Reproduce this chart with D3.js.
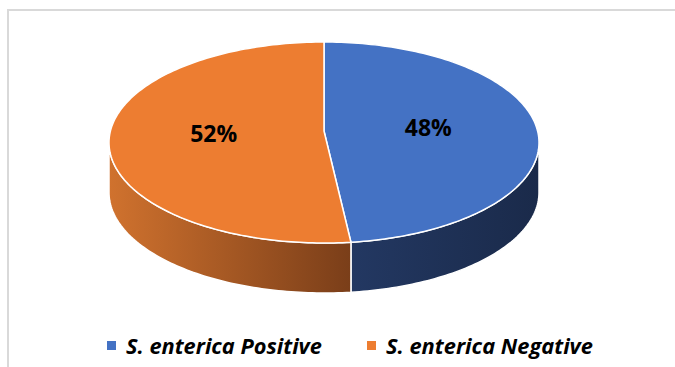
<!DOCTYPE html>
<html>
<head>
<meta charset="utf-8">
<script src="https://cdn.jsdelivr.net/npm/d3@7"></script>
<style>
  html, body { margin: 0; padding: 0; background: #fff; }
  svg { display: block; }
</style>
</head>
<body>
<svg id="chart" width="675" height="367"></svg>
<script>
const categories = ["S. enterica Positive", "S. enterica Negative"];
const values = [48, 52];
const labels = ["48%", "52%"];
const topColors = ["#4472C4", "#ED7D31"];
const sideLight = ["#233862", "#d0722e"];
const sideDark = ["#1a2a4a", "#7a3e19"];

const W = 675, H = 367;
const svg = d3.select("#chart");

// frame
svg.append("rect").attr("x", 8).attr("y", 10).attr("width", 700).attr("height", 400)
  .attr("fill", "#fff").attr("stroke", "#d9d9d9").attr("stroke-width", 2);

const cx = 324, cy = 142.5, rx = 215, ry = 100.5, depth = 50;
const hub = [324, 131];

const pie = d3.pie().sort(null).value(d => d);
const arcs = pie(values);

const pt = (a, dy = 0) => [cx + rx * Math.sin(a), cy - ry * Math.cos(a) + dy];

function sample(a0, a1, dy = 0) {
  const n = Math.max(2, Math.ceil(Math.abs(a1 - a0) / 0.02));
  return d3.range(n + 1).map(i => pt(a0 + (a1 - a0) * i / n, dy));
}

const defs = svg.append("defs");
const line = d3.line();

// sides (front half only: angles pi/2 .. 3pi/2)
arcs.forEach((d, i) => {
  const a0 = Math.max(d.startAngle, Math.PI / 2);
  const a1 = Math.min(d.endAngle, 3 * Math.PI / 2);
  if (a1 <= a0) return;
  const topPts = sample(a0, a1);
  const botPts = sample(a1, a0, depth);
  const xs = topPts.map(p => p[0]);
  const x0 = d3.min(xs), x1 = d3.max(xs);
  const gid = "side" + i;
  const g = defs.append("linearGradient").attr("id", gid)
    .attr("gradientUnits", "userSpaceOnUse")
    .attr("x1", x0).attr("x2", x1).attr("y1", 0).attr("y2", 0);
  g.append("stop").attr("offset", 0).attr("stop-color", sideLight[i]);
  g.append("stop").attr("offset", 1).attr("stop-color", sideDark[i]);
  svg.append("path")
    .attr("d", line(topPts.concat(botPts)) + "Z")
    .attr("fill", `url(#${gid})`)
    .attr("stroke", "#fff").attr("stroke-width", 1.5).attr("stroke-linejoin", "round");
});

// tops
arcs.forEach((d, i) => {
  const pts = [hub].concat(sample(d.startAngle, d.endAngle));
  svg.append("path")
    .attr("d", line(pts) + "Z")
    .attr("fill", topColors[i])
    .attr("stroke", "#fff").attr("stroke-width", 1.5).attr("stroke-linejoin", "round");
});

// labels
arcs.forEach((d, i) => {
  const a = (d.startAngle + d.endAngle) / 2;
  const x = hub[0] + 0.5 * rx * Math.sin(a) - 3;
  const y = hub[1] - 0.5 * ry * Math.cos(a);
  svg.append("text")
    .attr("x", x).attr("y", y).attr("dy", "0.36em")
    .attr("text-anchor", "middle")
    .attr("font-family", "'Open Sans', sans-serif")
    .attr("font-weight", "bold").attr("font-size", 23)
    .attr("fill", "#000")
    .text(labels[i]);
});

// legend
const legendX = [107, 367];
const legendW = [196, 207];
const legY = 346;
categories.forEach((c, i) => {
  svg.append("rect").attr("x", legendX[i]).attr("y", legY - 5)
    .attr("width", 9).attr("height", 9).attr("fill", topColors[i]);
  const t = svg.append("text")
    .attr("x", legendX[i] + 19).attr("y", legY).attr("dy", "0.36em")
    .attr("font-family", "'Open Sans', sans-serif")
    .attr("font-weight", "bold").attr("font-style", "italic")
    .attr("font-size", 20).attr("fill", "#000")
    .text(c);
  const w = t.node().getComputedTextLength();
  t.attr("font-size", 20 * legendW[i] / w);
});
</script>
</body>
</html>
